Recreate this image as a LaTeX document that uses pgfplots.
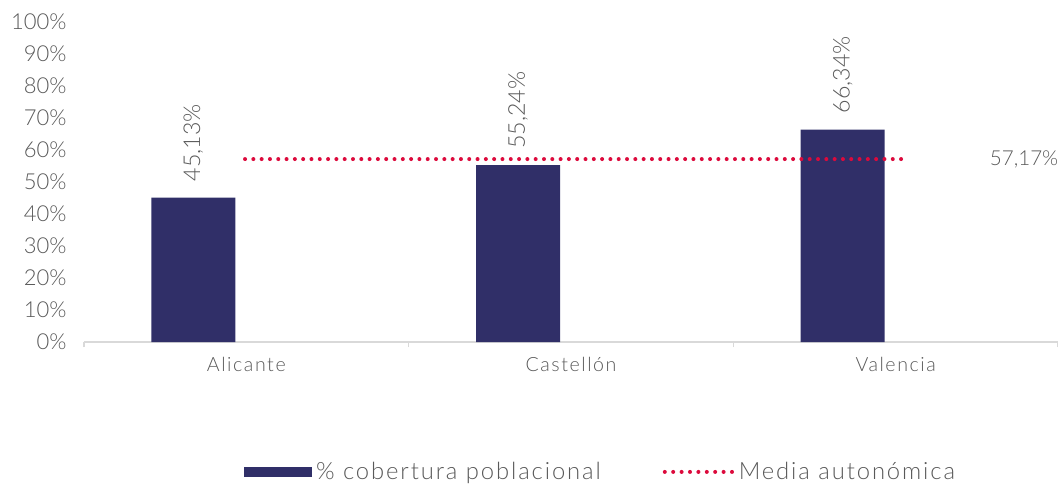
\documentclass[border=0pt]{standalone}
\usepackage{fontspec}
\setmainfont{Lato}[UprightFont={* Light}]
\newfontfamily\wide{Lato}[UprightFont={* Light}, LetterSpace=8]
\usepackage{pgfplots}
\pgfplotsset{compat=1.18}
\definecolor{navy}{HTML}{302F68}
\definecolor{dotred}{HTML}{DC0A3C}
\definecolor{txtgray}{HTML}{595959}
\definecolor{linegray}{HTML}{D9D9D9}
\begin{document}
\begin{tikzpicture}
\useasboundingbox (0,0) rectangle (529pt,241.5pt);
\begin{axis}[
  at={(42pt,70.5pt)}, anchor=south west,
  scale only axis, width=487pt, height=160pt,
  xmin=-0.5, xmax=2.5, ymin=0, ymax=100,
  axis x line*=bottom, axis y line*=left,
  x axis line style={draw=linegray, line width=0.8pt, -},
  y axis line style={draw=none},
  xtick={-0.5,0.5,1.5,2.5},
  x tick label as interval,
  xticklabels={Alicante,Castellón,Valencia},
  xtick style={draw=linegray, line width=0.8pt},
  ytick={0,10,...,100},
  ytick style={draw=none},
  tick align=outside, major tick length=2.5pt,
  yticklabel={\pgfmathprintnumber{\tick}\%},
  /pgf/number format/assume math mode=true,
  yticklabel style={font=\fontsize{11}{13}\selectfont, text=txtgray, anchor=east, inner sep=0pt, xshift=-6pt},
  xticklabel style={font=\wide\fontsize{9.8}{11}\selectfont, text=txtgray, anchor=north, inner sep=0pt, yshift=-5pt},
  legend style={at={(0.164,-0.406)}, anchor=west, draw=none, fill=none, inner sep=0pt,
    legend columns=2, font=\wide\fontsize{11.9}{14}\selectfont, text=txtgray,
    /tikz/every even column/.append style={column sep=29pt}},
  legend cell align=left,
  clip=false,
]
\addplot[ybar, bar width=42pt, bar shift=-26.5pt, fill=navy, draw=none,
  legend image code/.code={\fill[navy] (0pt,-2.5pt) rectangle (34pt,2.5pt);},
  nodes near coords={\pgfmathprintnumber[fixed,precision=2,use comma,fixed zerofill]{\pgfplotspointmeta}\%},
  nodes near coords style={xshift=-26.5pt, rotate=90, anchor=west, font=\fontsize{11.6}{14}\selectfont, text=txtgray, inner ysep=0pt, inner xsep=8pt, /pgf/number format/assume math mode=true}]
  coordinates {(0,45.13) (1,55.24) (2,66.34)};
\addlegendentry{\% cobertura poblacional}
\addplot[dotred, line width=2pt, line cap=round, dash pattern=on 0pt off 4.152pt,
  legend image code/.code={\draw[dotred, line width=2pt, line cap=round, dash pattern=on 0pt off 4.2pt] (1pt,0pt) -- (35pt,0pt);}]
  coordinates {(-0.004,57.17) (2.03,57.17)};
\addlegendentry{Media autonómica}
\node[anchor=west, inner sep=0pt, font=\fontsize{10.3}{13}\selectfont, text=txtgray] at (axis cs:2.289,57.17) {57,17\%};
\end{axis}
\end{tikzpicture}
\end{document}
